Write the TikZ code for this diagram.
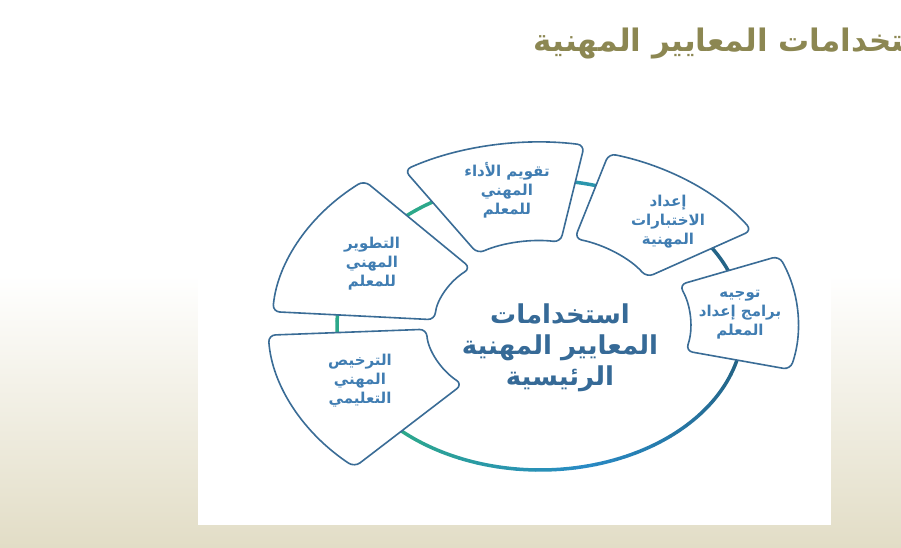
\documentclass[tikz,border=0pt]{standalone}
\usepackage{fontspec}
\newfontfamily\arabicfont[Script=Arabic]{DejaVu Sans}
\TeXXeTstate=1
\usetikzlibrary{positioning}
\definecolor{olivetitle}{RGB}{140,135,82}
\definecolor{boxline}{RGB}{58,108,150}
\definecolor{boxtext}{RGB}{64,125,178}
\definecolor{ringgreen}{RGB}{44,168,138}
\definecolor{ringblue}{RGB}{40,138,196}
\definecolor{ringdark}{RGB}{36,100,135}
\definecolor{beige}{RGB}{226,221,198}
\newcommand\rtl[1]{\beginR#1\endR}
% start angle, end angle, inner radius, outer radius
\newcommand\ringbox[4]{%
	\draw[box] (#1:#4) arc[start angle=#1, end angle=#2, radius=#4]
		-- (#2:#3) arc[start angle=#2, end angle=#1, radius=#3] -- cycle;}
\tikzset{%
	box/.style      = {draw=boxline, line width=1.6pt, fill=white, rounded corners=7pt},
	ring/.style     = {line width=3.5pt, line cap=round},
	lbl/.style      = {text=boxtext, align=center, font=\arabicfont\bfseries\fontsize{15}{19}\selectfont},
	ctr/.style      = {text=boxtext!85!black, align=center, font=\arabicfont\bfseries\fontsize{26}{31}\selectfont},
	title/.style    = {text=olivetitle, font=\arabicfont\bfseries\fontsize{31}{34}\selectfont},
}

\begin{document}
\begin{tikzpicture}[x=1pt,y=1pt]
	\useasboundingbox (0,0) rectangle (901,-548);
	\clip (0,0) rectangle (901,-548);
	\fill[white] (0,0) rectangle (901,-548);
	\shade[top color=white, bottom color=beige] (0,-275) rectangle (901,-548);
	\fill[white] (198,-95) rectangle (831,-525);

	\node[title, anchor=east] (title) at (949,-44) {\rtl{استخدامات المعايير المهنية}};

	\begin{scope}[shift={(540,-325)}, x=203pt, y=145pt]
		% ring under the boxes
		\foreach \sa/\ea/\ca/\cb in {-136/-80/ringgreen/ringblue, -80/-20/ringblue/ringdark,
			-20/50/ringdark/ringdark, 50/110/ringblue/ringgreen, 110/224/ringgreen/ringgreen}{
			\foreach \k in {0,...,9}{
				\pgfmathtruncatemacro\p{100-\k*10}
				\pgfmathsetmacro\u{\sa+(\ea-\sa)*\k/10}
				\pgfmathsetmacro\v{\sa+(\ea-\sa)*(\k+1)/10}
				\draw[ring, draw=\ca!\p!\cb] (\u:1) arc[start angle=\u, end angle=\v, radius=1];
			}
		}
		\ringbox{131}{176}{0.52}{1.32}
		\ringbox{183}{227}{0.56}{1.34}
		\ringbox{80}{122}{0.58}{1.26}
		\ringbox{32}{74}{0.62}{1.23}
		\ringbox{-14}{22}{0.74}{1.27}
	\end{scope}

	\node[lbl] (tatweer)  at (372,-264) {\rtl{التطوير}\\ \rtl{المهني}\\ \rtl{للمعلم}};
	\node[lbl] (tarkhees) at (360,-381) {\rtl{الترخيص}\\ \rtl{المهني}\\ \rtl{التعليمي}};
	\node[lbl] (taqweem)  at (507,-190) {\rtl{تقويم الأداء}\\ \rtl{المهني}\\ \rtl{للمعلم}};
	\node[lbl] (ekhtibar) at (668,-222) {\rtl{إعداد}\\ \rtl{الاختبارات}\\ \rtl{المهنية}};
	\node[lbl] (tawjeeh)  at (740,-315) {\rtl{توجيه}\\ \rtl{برامج إعداد}\\ \rtl{المعلم}};
	\node[ctr] (centre)   at (560,-348) {\rtl{استخدامات}\\ \rtl{المعايير المهنية}\\ \rtl{الرئيسية}};
\end{tikzpicture}
\end{document}
